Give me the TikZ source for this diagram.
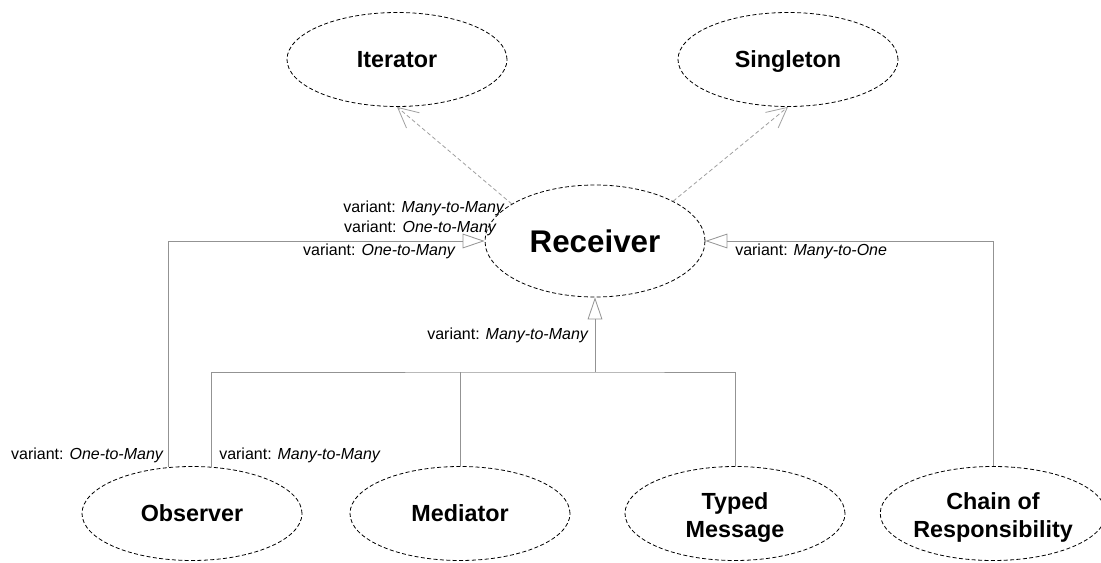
\documentclass[tikz,border=0pt]{standalone}
\usepackage{fontspec}
\setmainfont{Liberation Sans}
\usetikzlibrary{shapes.geometric,arrows.meta}

\begin{document}
\begin{tikzpicture}[x=0.75pt,y=0.75pt,yscale=-1,xscale=1,
    pattern/.style={ellipse,draw,dash pattern=on 3pt off 1.8pt,line width=0.6pt,
      minimum width=165pt,minimum height=70.5pt,inner sep=0pt,align=center,
      text height=12.6pt,text depth=0pt,
      font=\fontsize{17.5}{21}\selectfont\bfseries},
    twoline/.style={text height=36pt},
    variantlbl/.style={inner sep=0.75pt,font=\fontsize{12}{14}\selectfont},
    uses/.style={draw=gray!75,dash pattern=on 3pt off 2pt,line width=0.6pt,
      -{Straight Barb[length=15pt,width=15pt,line width=0.6pt]}},
    inherit/.style={draw=gray!85,line width=0.6pt,
      -{Triangle[open,length=16.5pt,width=11pt,line width=0.6pt]}},
    branch/.style={draw=gray!85,line width=0.6pt}]
  \useasboundingbox (0,0) rectangle (1101,563);
  % patterns
  \node [pattern] (iter) at (397,59.5) {Iterator};
  \node [pattern] (single) at (788,59.5) {Singleton};
  \node [pattern,minimum height=84pt,text height=17pt,font=\fontsize{23.5}{28}\selectfont\bfseries] (rec) at (595,241) {Receiver};
  \node [pattern] (obs) at (192,513.5) {Observer};
  \node [pattern] (med) at (460,513.5) {Mediator};
  \node [pattern,twoline] (typed) at (735,513.5) {Typed\\Message};
  \node [pattern,twoline] (chain) at (993,513.5) {Chain of\\Responsibility};
  \coordinate (join) at (595,372);
  % connectors
  \draw [uses] (rec.156) -- (iter.south);
  \draw [uses] (rec.27) -- (single.south);
  \draw [inherit] (obs.117) |- (rec.west);
  \draw [inherit] (chain.north) |- (rec.east);
  \draw [inherit] (join) -- (rec.south);
  \draw [branch] (obs.67) |- (join) -| (typed.north);
  \draw [branch] (med.north) -- (med.north |- join);
  % labels
  \node [variantlbl,anchor=east] (l1) at (506,208) {variant: \textit{Many-to-Many}};
  \node [variantlbl,anchor=east] (l2) at (498,228) {variant: \textit{One-to-Many}};
  \node [variantlbl,anchor=east] (l3) at (457,251) {variant: \textit{One-to-Many}};
  \node [variantlbl,anchor=west] (l4) at (734,251) {variant: \textit{Many-to-One}};
  \node [variantlbl,anchor=east] (l5) at (590,335) {variant: \textit{Many-to-Many}};
  \node [variantlbl,anchor=east] (l6) at (165,455) {variant: \textit{One-to-Many}};
  \node [variantlbl,anchor=west] (l7) at (218,455) {variant: \textit{Many-to-Many}};
\end{tikzpicture}
\end{document}
